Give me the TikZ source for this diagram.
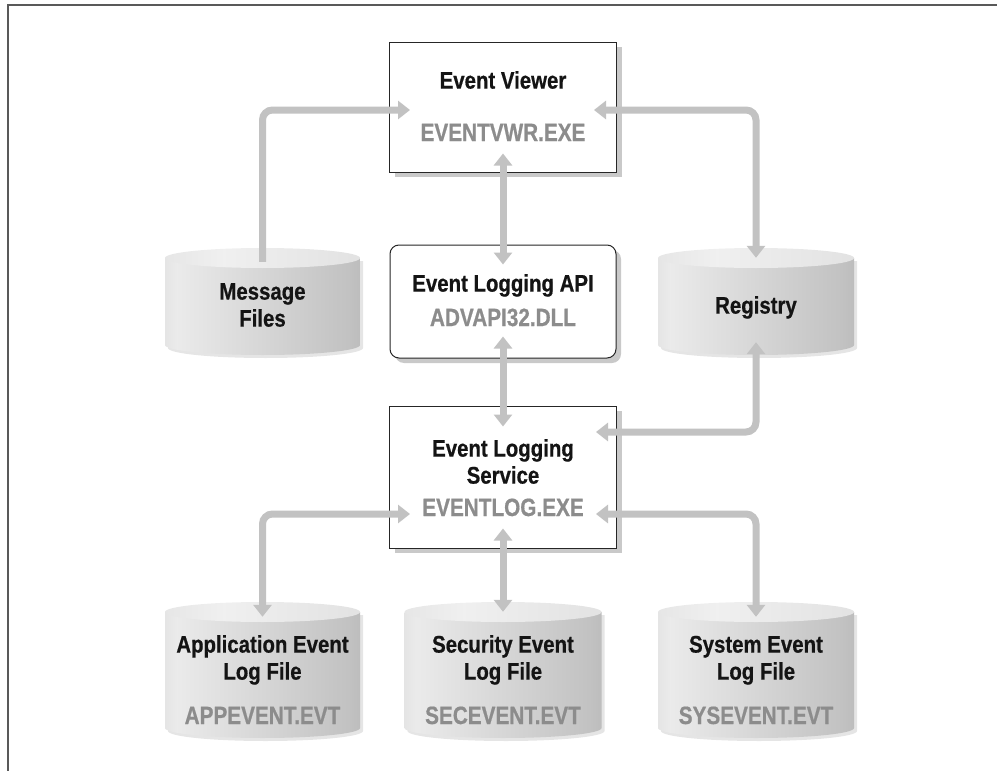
\documentclass[tikz,border=0pt]{standalone}
\usepackage{fontspec}
\usetikzlibrary{arrows.meta,shadows,calc}
\newfontfamily\condA[FakeStretch=0.85,BoldFeatures={FakeBold=0.6}]{Liberation Sans}
\newfontfamily\condB[FakeStretch=0.83,BoldFeatures={FakeBold=0.6}]{Liberation Sans}
\pgfdeclarehorizontalshading{cylbody}{100bp}{color(0bp)=(black!30); color(28bp)=(black!8); color(72bp)=(black!24); color(100bp)=(black!42)}
\pgfdeclarehorizontalshading{cyltop}{100bp}{color(0bp)=(black!16); color(40bp)=(black!6); color(100bp)=(black!15)}
\newcommand{\drawcyl}[5]{% name, cx, ytop, ybottom, halfwidth
  \fill[black!10] (#2-#5+3,#3+13) -- (#2-#5+3,#4-7) arc[start angle=180,end angle=360,x radius=#5pt,y radius=10pt] -- (#2+#5+3,#3+13) -- cycle;
  \shade[shading=cylbody] (#2-#5,#3+10) -- (#2-#5,#4-10) arc[start angle=180,end angle=360,x radius=#5pt,y radius=10pt] -- (#2+#5,#3+10) -- cycle;
  \shade[shading=cyltop] (#2,#3+10) ellipse[x radius=#5pt,y radius=10pt];
  \node[cylnode,minimum width={2*#5pt},minimum height={(#4-#3)*1pt}] (#1) at (#2,{(#3+#4)/2}) {};
}
\tikzset{
  cylnode/.style={shape=rectangle,inner sep=0pt,draw=none},
  box/.style={draw=black!85,line width=1pt,fill=white,inner sep=0pt,
    drop shadow={shadow xshift=5pt,shadow yshift=-5pt,fill=black!30,opacity=.7}},
  conn/.style={draw=black!24,line width=7pt,rounded corners=10pt},
  tips/.style={{Triangle[width=18pt,length=12pt]}-{Triangle[width=18pt,length=12pt]}},
  tipend/.style={-{Triangle[width=18pt,length=12pt]}},
  title/.style={font=\condA\bfseries\fontsize{24}{26}\selectfont,text=black!92,inner sep=0pt,text height=17.2pt,text depth=0pt},
  fname/.style={font=\condB\bfseries\fontsize{25}{27}\selectfont,text=black!45,inner sep=0pt,text height=18pt,text depth=0pt}
}
\begin{document}
\begin{tikzpicture}[x=1pt,y=-1pt]
\useasboundingbox (0,0) rectangle (997,771);
% frame
\draw[black!65,line width=2pt] (997,5) -- (8,5) -- (8,771);
% cylinders
\drawcyl{msg}{262.5}{248}{355}{97.5}
\drawcyl{reg}{756}{248}{355}{98}
\drawcyl{app}{262.5}{602}{738}{97.5}
\drawcyl{sec}{503}{602}{738}{98.5}
\drawcyl{sys}{756}{602}{738}{98}
% boxes
\node[box,minimum width=227pt,minimum height=130pt] (ev) at (503,107) {};
\node[box,rounded corners=9pt,minimum width=226pt,minimum height=113pt] (api) at (503,301.5) {};
\node[box,minimum width=227pt,minimum height=142pt] (svc) at (503,477) {};
% connectors
\draw[conn,tipend] ([yshift=-14pt]msg.north) |- ([xshift=21pt,yshift=-3pt]ev.west);
\draw[conn,tips] ([yshift=-10pt]reg.north) |- ([xshift=-23pt,yshift=-3pt]ev.east);
\draw[conn,tips] ([yshift=13pt]reg.south) |- ([xshift=-21pt,yshift=45pt]svc.east);
\draw[conn,tips] ([yshift=19pt]ev.south) -- ([yshift=-20pt]api.north);
\draw[conn,tips] ([yshift=22pt]api.south) -- ([yshift=-21pt]svc.north);
\draw[conn,tips] ([xshift=21pt,yshift=-37pt]svc.west) -| ([yshift=-15pt]app.north);
\draw[conn,tips] ([yshift=20pt]svc.south) -- ([yshift=-10pt]sec.north);
\draw[conn,tips] ([xshift=-21pt,yshift=-37pt]svc.east) -| ([yshift=-15pt]sys.north);
% texts
\node[title] (evt) at (503,80) {Event Viewer};
\node[fname] (evf) at (503,132) {EVENTVWR.EXE};
\node[title] (apit) at (503,283) {Event Logging API};
\node[fname] (apif) at (503,317) {ADVAPI32.DLL};
\node[title] (svct1) at (503,448) {Event Logging};
\node[title] (svct2) at (503,475) {Service};
\node[fname] (svcf) at (503,507) {EVENTLOG.EXE};
\node[title] (msgt1) at (262.5,291) {Message};
\node[title] (msgt2) at (262.5,318) {Files};
\node[title] (regt) at (756,305) {Registry};
\node[title] (appt1) at (262.5,644) {Application Event};
\node[title] (appt2) at (262.5,671) {Log File};
\node[fname] (appf) at (262.5,715) {APPEVENT.EVT};
\node[title] (sect1) at (503,644) {Security Event};
\node[title] (sect2) at (503,671) {Log File};
\node[fname] (secf) at (503,715) {SECEVENT.EVT};
\node[title] (syst1) at (756,644) {System Event};
\node[title] (syst2) at (756,671) {Log File};
\node[fname] (sysf) at (756,715) {SYSEVENT.EVT};
\end{tikzpicture}
\end{document}
